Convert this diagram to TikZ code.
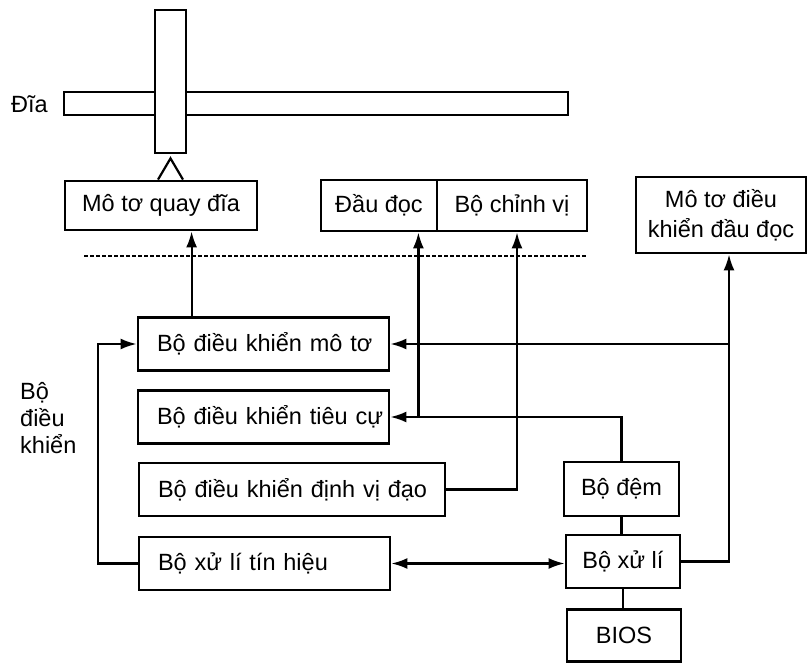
\documentclass[tikz,border=0pt]{standalone}
\usepackage{fontspec}
\setmainfont{Liberation Sans}
\usetikzlibrary{arrows.meta,calc}
\begin{document}
\begin{tikzpicture}[x=1pt,y=-1pt,
  every node/.style={font=\fontsize{23.5}{28}\selectfont},
  box/.style={draw, line width=2.8pt, inner sep=0pt, align=center},
  lbox/.style={draw, line width=2.8pt, inner xsep=0pt, inner ysep=0pt, align=left,
     minimum height=53pt, execute at begin node={\hspace*{19pt}}},
  conn/.style={line width=2.2pt},
  arr/.style={conn, -{Latex[length=16pt,width=11pt]}},
  dbl/.style={conn, {Latex[length=16pt,width=11pt]}-{Latex[length=16pt,width=11pt]}},
]
\useasboundingbox (0,0) rectangle (808,663);

% disc and spindle
\node[box, minimum width=504pt, minimum height=23pt] (disc) at (316,103.5) {};
\node[box, fill=white, minimum width=31pt, minimum height=143pt] (spindle) at (170.5,81.5) {};
\node[anchor=west, inner sep=0pt] (disclbl) at (11,104) {Đĩa};

% top row
\node[box, minimum width=192pt, minimum height=49pt] (motorA) at (161,205.5) {Mô tơ quay đĩa};
\node[box, minimum width=116pt, minimum height=51pt] (head) at (379,205.5) {Đầu đọc};
\node[box, minimum width=150pt, minimum height=51pt] (pos) at (512,205.5) {Bộ chỉnh vị};
\node[box, minimum width=170pt, minimum height=76pt,
      font=\fontsize{23.5}{30}\selectfont] (motorB) at (721,215) {Mô tơ điều\\khiển đầu đọc};

% triangle (spindle bearing)
\coordinate (tri) at ([yshift=-4pt]spindle.south);
\draw[conn] ($(tri |- motorA.north)+(-12.5,0)$) -- (tri) -- ($(tri |- motorA.north)+(12.5,0)$);

% dashed separator
\coordinate (d1) at (84,256);
\coordinate (d2) at (587,256);
\draw[line width=1.6pt, dash pattern=on 4pt off 2pt] (d1) -- (d2);

% controller column
\node[lbox, text width=251pt] (ctrlM) at (263.5,344) {Bộ điều khiển mô tơ};
\node[lbox, text width=251pt] (ctrlF) at (263.5,417) {Bộ điều khiển tiêu cự};
\node[lbox, text width=306pt] (ctrlT) at (292,489.5) {Bộ điều khiển định vị đạo};
\node[lbox, text width=251pt] (sig) at (264.5,563.5) {Bộ xử lí tín hiệu};

\node[anchor=west, inner sep=0pt, align=left,
      font=\fontsize{23.5}{27}\selectfont] (ctrllbl) at (20,418) {Bộ\\điều\\khiển};

% right column
\node[box, minimum width=115pt, minimum height=54pt] (buf) at (621.5,489) {Bộ đệm};
\node[box, minimum width=114pt, minimum height=53pt] (cpu) at (623,561.5) {Bộ xử lí};
\node[box, minimum width=114pt, minimum height=52pt] (bios) at (624,635.5) {BIOS};

% helper coordinates
\coordinate (hx) at ([xshift=-20pt]head.south east);
\coordinate (px) at ([xshift=5pt]pos.south);
\coordinate (mx) at ([xshift=8pt]motorB.south);

% connectors
\draw[arr] ([xshift=55pt]ctrlM.north west) -- ([xshift=55pt]ctrlM.north west |- motorA.south);
\draw[arr] (buf.north) |- (ctrlF.east);
\draw[arr] (hx |- ctrlF.east) -- (hx);
\draw[arr] (ctrlT.east) -| (px);
\draw[arr] (cpu.east) -| (mx);
\draw[arr] (mx |- ctrlM.east) -- (ctrlM.east);
\draw[conn] (buf.south) -- (buf.south |- cpu.north);
\draw[conn] (cpu.south) -- (cpu.south |- bios.north);
\draw[dbl] (sig.east) -- (sig.east -| cpu.west);
\draw[arr] (sig.west) -- ++(-40,0) |- (ctrlM.west);
\end{tikzpicture}
\end{document}
